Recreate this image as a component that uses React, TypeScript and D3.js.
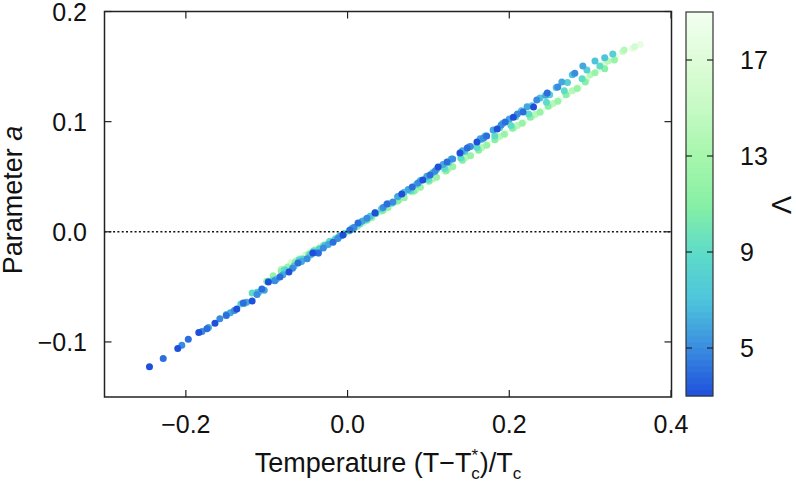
import React from 'react'
import * as d3 from 'd3'

// scatter of parameter a vs reduced temperature, one run per Λ
const t3 = [-0.245, -0.21, -0.184, -0.164, -0.137, -0.118, -0.098, -0.0725, -0.043, -0.0057, 0.034, 0.067, 0.093, 0.112, 0.139, 0.16, 0.185, 0.205, 0.23]
const a3 = [-0.1225, -0.106, -0.0915, -0.083, -0.07, -0.0628, -0.0456, -0.0366, -0.0193, -0.0029, 0.017, 0.0343, 0.047, 0.0589, 0.0716, 0.0816, 0.0933, 0.104, 0.1133]

const t4 = [-0.228, -0.197, -0.174, -0.15, -0.129, -0.106, -0.0836, -0.0613, -0.036, -0.018, 0.003, 0.0129, 0.0487, 0.08, 0.102, 0.123, 0.148, 0.172, 0.195, 0.217, 0.247]
const a4 = [-0.115, -0.0975, -0.088, -0.076, -0.0647, -0.052, -0.041, -0.0283, -0.0193, -0.0095, 0.0016, 0.008, 0.0252, 0.0407, 0.0516, 0.0634, 0.0761, 0.087, 0.0997, 0.1087, 0.126]

const t5 = [-0.205, -0.18, -0.158, -0.14, -0.112, -0.09, -0.068, -0.05, -0.03, -0.012, 0.008, 0.024, 0.044, 0.056, 0.087, 0.108, 0.13, 0.152, 0.168, 0.19, 0.21, 0.234, 0.26, 0.281]
const a5 = [-0.103, -0.0905, -0.079, -0.0715, -0.057, -0.0445, -0.033, -0.0245, -0.0147, -0.006, 0.004, 0.0122, 0.022, 0.027, 0.0443, 0.055, 0.066, 0.0775, 0.085, 0.097, 0.107, 0.1196, 0.1315, 0.144]

const t6 = [-0.172, -0.145, -0.125, -0.103, -0.08, -0.057, -0.04, -0.024, -0.008, 0.018, 0.034, 0.062, 0.075, 0.098, 0.118, 0.142, 0.164, 0.18, 0.2, 0.222, 0.245, 0.265, 0.291]
const a6 = [-0.087, -0.0735, -0.064, -0.053, -0.039, -0.027, -0.0188, -0.0115, -0.0035, 0.0095, 0.0175, 0.032, 0.0385, 0.0505, 0.061, 0.0735, 0.0845, 0.0925, 0.1025, 0.1135, 0.124, 0.136, 0.1506]

const t7 = [-0.15, -0.128, -0.11, -0.088, -0.066, -0.046, -0.028, -0.01, 0.006, 0.028, 0.05, 0.07, 0.09, 0.11, 0.128, 0.15, 0.17, 0.192, 0.215, 0.238, 0.258, 0.278, 0.306, 0.318]
const a7 = [-0.075, -0.065, -0.055, -0.043, -0.031, -0.021, -0.0125, -0.004, 0.0035, 0.014, 0.0255, 0.036, 0.0465, 0.0565, 0.066, 0.077, 0.087, 0.0985, 0.11, 0.1215, 0.131, 0.1425, 0.155, 0.158]

const t8 = [-0.132, -0.112, -0.092, -0.075, -0.055, -0.035, -0.015, 0.002, 0.022, 0.042, 0.062, 0.085, 0.105, 0.125, 0.145, 0.165, 0.188, 0.208, 0.228, 0.25, 0.272, 0.296, 0.328]
const a8 = [-0.0655, -0.055, -0.044, -0.0355, -0.025, -0.0155, -0.0065, 0.001, 0.011, 0.021, 0.0315, 0.043, 0.0535, 0.063, 0.073, 0.0835, 0.0945, 0.1045, 0.1145, 0.1245, 0.1355, 0.147, 0.1615]

const t9 = [-0.118, -0.098, -0.078, -0.06, -0.042, -0.022, -0.004, 0.015, 0.035, 0.055, 0.078, 0.1, 0.12, 0.14, 0.16, 0.182, 0.202, 0.224, 0.246, 0.268, 0.29, 0.312]
const a9 = [-0.0555, -0.045, -0.0345, -0.0255, -0.0175, -0.0085, -0.0015, 0.007, 0.0165, 0.026, 0.037, 0.0475, 0.0575, 0.067, 0.0765, 0.087, 0.0965, 0.107, 0.1175, 0.128, 0.139, 0.1505]

const t11 = [-0.1, -0.082, -0.065, -0.048, -0.03, -0.012, 0.006, 0.024, 0.043, 0.062, 0.082, 0.101, 0.122, 0.142, 0.162, 0.182, 0.204, 0.226, 0.248, 0.27, 0.294, 0.318]
const a11 = [-0.045, -0.036, -0.028, -0.0205, -0.0125, -0.005, 0.0025, 0.0105, 0.019, 0.028, 0.037, 0.046, 0.0555, 0.065, 0.074, 0.0835, 0.094, 0.104, 0.114, 0.1245, 0.136, 0.148]

const t12 = [-0.092, -0.074, -0.057, -0.04, -0.022, -0.005, 0.012, 0.03, 0.05, 0.07, 0.09, 0.11, 0.13, 0.152, 0.172, 0.194, 0.216, 0.238, 0.26, 0.284, 0.306, 0.33]
const a12 = [-0.04, -0.032, -0.0245, -0.0165, -0.009, -0.002, 0.005, 0.013, 0.022, 0.031, 0.0405, 0.0495, 0.059, 0.069, 0.0785, 0.0885, 0.0985, 0.1085, 0.1185, 0.13, 0.1445, 0.156]

const t14 = [-0.082, -0.064, -0.046, -0.028, -0.01, 0.008, 0.026, 0.045, 0.064, 0.084, 0.105, 0.125, 0.146, 0.166, 0.188, 0.21, 0.232, 0.254, 0.278, 0.3, 0.322, 0.342]
const a14 = [-0.034, -0.0265, -0.019, -0.0115, -0.004, 0.003, 0.0115, 0.02, 0.029, 0.038, 0.048, 0.0575, 0.0675, 0.0765, 0.0865, 0.0965, 0.1065, 0.1165, 0.128, 0.1425, 0.155, 0.165]

const t16 = [-0.07, -0.052, -0.034, -0.016, 0.002, 0.02, 0.04, 0.06, 0.08, 0.1, 0.12, 0.142, 0.162, 0.184, 0.206, 0.228, 0.25, 0.272, 0.296, 0.318, 0.34, 0.355]
const a16 = [-0.028, -0.021, -0.0135, -0.0065, 0.0005, 0.0085, 0.018, 0.027, 0.036, 0.0455, 0.055, 0.065, 0.0745, 0.0845, 0.0945, 0.1045, 0.1145, 0.125, 0.139, 0.153, 0.1635, 0.168]

const t18 = [-0.06, -0.042, -0.024, -0.006, 0.012, 0.03, 0.05, 0.07, 0.09, 0.11, 0.13, 0.152, 0.174, 0.196, 0.218, 0.24, 0.262, 0.286, 0.31, 0.332, 0.352, 0.362]
const a18 = [-0.0235, -0.0165, -0.0095, -0.0025, 0.0045, 0.013, 0.022, 0.031, 0.0405, 0.05, 0.06, 0.07, 0.08, 0.09, 0.1, 0.11, 0.12, 0.1315, 0.147, 0.159, 0.1665, 0.17]

const runs = [
	{ lambda: 3, t: t3, a: a3 },
	{ lambda: 4, t: t4, a: a4 },
	{ lambda: 5, t: t5, a: a5 },
	{ lambda: 6, t: t6, a: a6 },
	{ lambda: 7, t: t7, a: a7 },
	{ lambda: 8, t: t8, a: a8 },
	{ lambda: 9, t: t9, a: a9 },
	{ lambda: 11, t: t11, a: a11 },
	{ lambda: 12, t: t12, a: a12 },
	{ lambda: 14, t: t14, a: a14 },
	{ lambda: 16, t: t16, a: a16 },
	{ lambda: 18, t: t18, a: a18 }
]

const xTicks = [-0.2, 0, 0.2, 0.4]
const yTicks = [-0.1, 0, 0.1, 0.2]
const cbTicks = [5, 9, 13, 17]

// palette stops
const paletteValues = [3, 5, 7, 9, 11, 13, 15, 17, 19]
const paletteColors = ['#1f50dc', '#3a8ce0', '#4ec4dc', '#5edcc8', '#88f0a4', '#a6f6ac', '#c6fac4', '#defcd8', '#f2fff0']

const FONT = '"Liberation Sans", Arial, Helvetica, sans-serif'
const INK = '#222'

const App = () => {
	const x = d3.scaleLinear().domain([-0.3, 0.4]).range([105, 671])
	const y = d3.scaleLinear().domain([-0.15, 0.2]).range([397, 11.5])
	const cb = d3.scaleLinear().domain([3, 19]).range([396, 12])
	const color = d3.scaleLinear<string>().domain(paletteValues).range(paletteColors).interpolate(d3.interpolateRgb)
	const fmt = d3.format('.1f')

	const left = 104.5
	const right = 671.5
	const top = 11.5
	const bottom = 397
	const cbL = 686
	const cbR = 713
	const tickLen = 7

	const bands = d3.range(64)
	const bandH = (cb(3) - cb(19)) / bands.length

	// light runs first so the blue ones sit on top
	const order = [...runs].reverse()

	return (
		<svg width={796} height={481} style={{ position: 'absolute', left: 0, top: 0, background: '#fff' }} fontFamily={FONT}>
			<rect x={0} y={0} width={796} height={481} fill="#fff" />

			{/* points */}
			<g>
				{order.map((r) =>
					r.t.map((tv, i) => (
						<circle key={`${r.lambda}-${i}`} cx={x(tv)} cy={y(r.a[i])} r={3.5} fill={color(r.lambda)} />
					))
				)}
			</g>

			{/* zero line */}
			<line x1={left} x2={right} y1={y(0)} y2={y(0)} stroke="#111" strokeWidth={1.5} strokeDasharray="2,2.3" />

			{/* frame and ticks */}
			<rect x={left} y={top} width={right - left} height={bottom - top} fill="none" stroke={INK} strokeWidth={1.5} />
			{xTicks.map((v) => (
				<g key={v}>
					<line x1={x(v)} x2={x(v)} y1={bottom} y2={bottom - tickLen} stroke={INK} strokeWidth={1.2} />
					<line x1={x(v)} x2={x(v)} y1={top} y2={top + tickLen} stroke={INK} strokeWidth={1.2} />
					<text x={x(v)} y={433} textAnchor="middle" fontSize={25} fill="#111">
						{fmt(v)}
					</text>
				</g>
			))}
			{yTicks.map((v) => (
				<g key={v}>
					<line x1={left} x2={left + tickLen} y1={y(v)} y2={y(v)} stroke={INK} strokeWidth={1.2} />
					<line x1={right} x2={right - tickLen} y1={y(v)} y2={y(v)} stroke={INK} strokeWidth={1.2} />
					<text x={87} y={y(v) + 9} textAnchor="end" fontSize={25} fill="#111">
						{fmt(v)}
					</text>
				</g>
			))}

			{/* axis titles */}
			<text x={388} y={472} textAnchor="middle" fontSize={27} fill="#111">
				Temperature (T−T
				<tspan fontSize={17} dy={-11}>*</tspan>
				<tspan fontSize={17} dx={-7} dy={18}>c</tspan>
				<tspan dy={-7}>)/T</tspan>
				<tspan fontSize={17} dy={7}>c</tspan>
			</text>
			<text transform="translate(22,200) rotate(-90)" textAnchor="middle" fontSize={27} fill="#111">
				Parameter <tspan fontStyle="italic">a</tspan>
			</text>

			{/* colour box */}
			<g>
				{bands.map((i) => {
					const v0 = 3 + (16 * i) / bands.length
					const v1 = 3 + (16 * (i + 1)) / bands.length
					return (
						<rect key={i} x={cbL} y={cb(v1)} width={cbR - cbL} height={bandH + 0.3} fill={color((v0 + v1) / 2)} />
					)
				})}
				<rect x={cbL} y={cb(19)} width={cbR - cbL} height={cb(3) - cb(19)} fill="none" stroke="#333" strokeWidth={1.2} />
				{cbTicks.map((v) => (
					<g key={v}>
						<line x1={cbL} x2={cbL + 6} y1={cb(v)} y2={cb(v)} stroke={INK} strokeWidth={1.2} />
						<line x1={cbR} x2={cbR - 6} y1={cb(v)} y2={cb(v)} stroke={INK} strokeWidth={1.2} />
						<text x={740} y={cb(v) + 9} fontSize={25} fill="#111">
							{v}
						</text>
					</g>
				))}
				<text transform="translate(791,205) rotate(-90)" textAnchor="middle" fontSize={27} fill="#111">
					Λ
				</text>
			</g>
		</svg>
	)
}

export default App
